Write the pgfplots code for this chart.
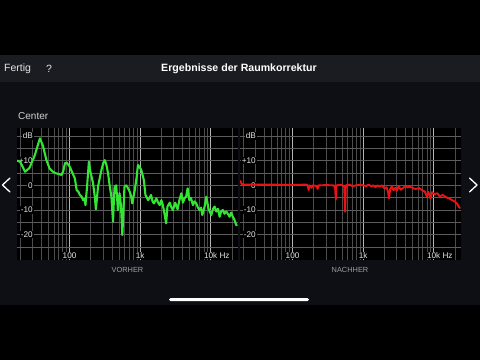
\documentclass[border=0pt]{standalone}
\usepackage{fontspec}
\setmainfont{Liberation Sans}
\usepackage{pgfplots}
\pgfplotsset{compat=1.18}
\definecolor{topbar}{HTML}{1B1C21}
\definecolor{content}{HTML}{0E0F14}
\definecolor{grn}{HTML}{33E633}
\definecolor{rd}{HTML}{EE1111}
\definecolor{gridmaj}{HTML}{B4B4B4}
\definecolor{gridmin}{HTML}{4C4C4C}
\definecolor{gridy}{HTML}{5C5C5C}
\begin{document}
\begin{tikzpicture}[x=1pt,y=1pt]
\fill[black] (0,0) rectangle (480,360);
\useasboundingbox (0,0) rectangle (480,360);
\fill[topbar] (0,278) rectangle (480,305);
\fill[content] (0,55) rectangle (480,278);
\node[text=white!90!black, font=\fontsize{10.5}{12}\selectfont, anchor=west, inner sep=0pt] at (4,291) {Fertig};
\node[text=white!90!black, font=\fontsize{10.5}{12}\selectfont, inner sep=0pt] at (49,291) {?};
\node[text=white, font=\fontsize{10.6}{12}\selectfont\bfseries, inner sep=0pt] at (239,291) {Ergebnisse der Raumkorrektur};
\node[text=white!82!black, font=\fontsize{10}{12}\selectfont, anchor=west, inner sep=0pt] at (18,243.5) {Center};
\fill[white, rounded corners=1.5pt] (169,59) rectangle (309,62);
\draw[white, line width=1.3pt, line cap=round, line join=round] (10,182) -- (2.5,175) -- (10,168);
\draw[white, line width=1.3pt, line cap=round, line join=round] (469.5,182) -- (477,175) -- (469.5,168);

\begin{axis}[at={(17pt,100pt)},
    scale only axis, width=220.5pt, height=132pt, anchor=south west,
    xmode=log, xmin=18, xmax=24000, ymin=-30.2, ymax=23.2,
    axis background/.style={fill=black},
    axis line style={draw=none},
    major tick length=0pt, minor tick length=0pt,
    xtick={100,1000,10000},
    xticklabels={100,1k,{10k\rlap{\ Hz}}},
    minor xtick={20,30,40,50,60,70,80,90,200,300,400,500,600,700,800,900,2000,3000,4000,5000,6000,7000,8000,9000,20000},
    ytick={-20,-10,0,10,20},
    yticklabels={-20,-10,0,+10,dB},
    minor ytick={-25,-15,-5,5,15},
    grid=both,
    major x grid style={gridmaj, line width=0.7pt},
    minor x grid style={gridmin, line width=0.6pt},
    major y grid style={gridy, line width=0.6pt},
    minor y grid style={gridy, line width=0.6pt},
    x tick label style={anchor=center, yshift=4.5pt, inner sep=0.8pt, fill=black, text=white!90!black, font=\fontsize{8.2}{9}\selectfont},
    y tick label style={anchor=east, xshift=16.8pt, inner sep=0.8pt, fill=black, text=white!90!black, font=\fontsize{8.2}{9}\selectfont}]
\addplot[grn, line width=2.1pt, line join=round] coordinates {
(18,10) (20,9.5) (23.4,5.5) (27,7) (32,12) (38,19) (42,16) (47,10.2) (52,6.9)
(58,5.5) (64,4.9) (70,4.6) (77,4.2) (82,6) (86,8.9) (91,9.2) (101,7.5) (110,5)
(119,2.8) (126,-1.9) (133,-2.5) (140,-3.9) (148,-4.5) (156,-6) (163,-5.5) (168,-8)
(177,-0.6) (188,9.6) (196,6) (205,3.5) (215,1) (228,-4.6) (236,-9.7) (245,-5)
(253,-0.6) (268,3) (283,6.2) (300,9) (316,10.2) (335,8) (351,4.9) (370,0)
(392,-4.6) (413,-14.7) (425,-6) (435,-0.6) (459,0) (484,-10) (510,-3.2) (535,-8)
(560,-20.1) (585,-8) (600,-0.6) (635,0) (670,-1) (712,-2.6) (740,-4) (775,-7.3)
(840,-1.9) (890,3) (932,8.2) (980,7.5) (1040,6.2) (1130,2.1) (1190,-3.9) (1300,-6)
(1360,-5) (1430,-3.9) (1500,-6.5) (1570,-7.3) (1700,-5.3) (1800,-7) (1900,-8)
(2000,-6) (2100,-8) (2210,-11.3) (2340,-15.4) (2440,-8.6) (2630,-7) (2780,-9)
(2920,-10) (3140,-7) (3400,-9.7) (3600,-6) (3840,-3.2) (4040,-7) (4300,-5)
(4490,-4.6) (4720,-1.2) (4990,-6) (5250,-5) (5600,-8) (5900,-6.5) (6260,-7.3)
(6600,-9) (6970,-10) (7300,-9) (7610,-12) (8210,-8.6) (8680,-4.6) (9360,-9.7)
(10200,-12) (10800,-9.5) (11370,-8.6) (12030,-10.6) (12700,-9.5) (13380,-12.7)
(14100,-10.5) (14900,-10) (15700,-11.5) (16650,-10.6) (17500,-11.5) (18540,-12.7)
(19500,-11) (20600,-12.7) (21800,-14) (23000,-16.1) (24000,-16)
};
\end{axis}
\node[text=white!62!black, font=\fontsize{7.4}{9}\selectfont, inner sep=0pt] at (127.5,90) {VORHER};

\begin{axis}[at={(240pt,100pt)},
    scale only axis, width=220.5pt, height=132pt, anchor=south west,
    xmode=log, xmin=18, xmax=24000, ymin=-30.2, ymax=23.2,
    axis background/.style={fill=black},
    axis line style={draw=none},
    major tick length=0pt, minor tick length=0pt,
    xtick={100,1000,10000},
    xticklabels={100,1k,{10k\rlap{\ Hz}}},
    minor xtick={20,30,40,50,60,70,80,90,200,300,400,500,600,700,800,900,2000,3000,4000,5000,6000,7000,8000,9000,20000},
    ytick={-20,-10,0,10,20},
    yticklabels={-20,-10,0,+10,dB},
    minor ytick={-25,-15,-5,5,15},
    grid=both,
    major x grid style={gridmaj, line width=0.7pt},
    minor x grid style={gridmin, line width=0.6pt},
    major y grid style={gridy, line width=0.6pt},
    minor y grid style={gridy, line width=0.6pt},
    x tick label style={anchor=center, yshift=4.5pt, inner sep=0.8pt, fill=black, text=white!90!black, font=\fontsize{8.2}{9}\selectfont},
    y tick label style={anchor=east, xshift=16.8pt, inner sep=0.8pt, fill=black, text=white!90!black, font=\fontsize{8.2}{9}\selectfont}]
\addplot[rd, line width=1.9pt, line join=round] coordinates {
(18,2.0) (19,0.6) (21,0.3) (50,0.3) (100,0.2) (160,0.3) (165,-0.5) (169,-1.9)
(173,0) (180,-0.3) (186,-1.0) (192,0) (215,-0.2) (227,-1.4) (234,0) (300,0.1)
(380,0) (400,-0.5) (410,-5.7) (418,0) (500,0.2) (540,-0.5) (555,-10.7) (570,0)
(650,0.3) (700,-0.3) (800,0) (900,0.3) (1000,0) (1100,-0.3) (1200,0.3) (1300,-0.4)
(1400,0) (1500,-0.8) (1600,0) (1700,-0.5) (1850,0) (2000,-1.2) (2150,-0.8)
(2250,-2.5) (2330,-5.3) (2420,-1.5) (2550,-0.5) (2700,-2) (2850,-1) (3000,-2.2)
(3200,-0.3) (3400,-1.8) (3650,-1.2) (3900,-0.4) (4200,-0.8) (4600,-0.6) (5000,-1)
(5500,-1.5) (6200,-1.1) (6900,-2) (7500,-2.6) (8000,-4.5) (8400,-2.6) (9000,-5.3)
(9500,-2.8) (10300,-3.5) (11300,-3.2) (12200,-4.5) (13400,-3.9) (14500,-4.5)
(15500,-5) (16600,-5.3) (18300,-6) (20000,-6.6) (21500,-7.5) (23000,-8.9) (24000,-9.2)
};
\end{axis}
\node[text=white!62!black, font=\fontsize{7.4}{9}\selectfont, inner sep=0pt] at (350,90) {NACHHER};
\end{tikzpicture}
\end{document}
